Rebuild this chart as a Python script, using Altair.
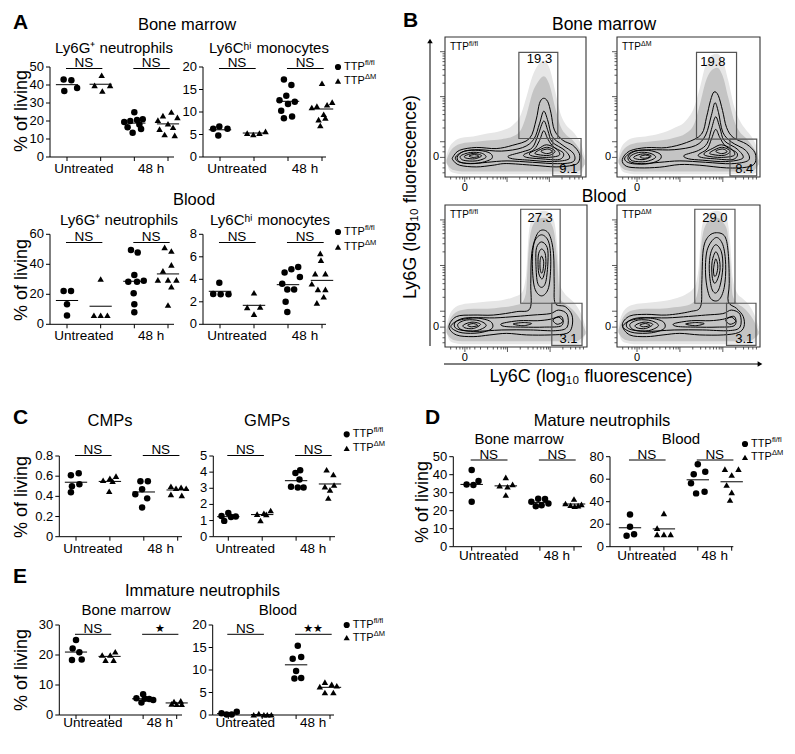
import altair as alt
import pandas as pd

FONT = "Liberation Sans"
MARGIN = 8
CW, CH = 779, 738
GROUP_LABELS = ["Untreated", "48 h"]
GENOS = ["fl", "dm", "fl", "dm"]
SHAPE_SCALE = alt.Scale(domain=["fl", "dm"], range=["circle", "triangle-up"])

# ---------------- strip-plot data (values, horizontal jitter) ----------------
A_BM_LY6G = [[43.1, 42.6, 36.7, 38.3], [45.4, 39.8, 39.8, 36.7],
             [24.9, 21.0, 20.5, 20.0, 19.5, 18.0, 16.5, 15.5, 13.5],
             [25.0, 23.0, 22.0, 20.5, 18.5, 16.5, 15.5, 12.5, 12.0]]
A_BM_LY6G_J = [[-0.10, 0.13, -0.08, 0.30], [0.03, -0.18, 0.28, 0.05],
               [0.00, 0.25, 0.08, -0.12, -0.30, 0.15, -0.20, 0.20, -0.05],
               [0.10, -0.15, 0.28, -0.30, 0.00, 0.15, -0.25, -0.10, 0.20]]
A_BM_LY6C = [[6.8, 6.3, 6.3, 4.8], [5.3, 5.0, 5.3, 5.7],
             [17.2, 16.0, 13.6, 12.6, 12.3, 11.8, 10.3, 9.0, 8.6],
             [16.4, 12.2, 11.6, 11.3, 11.0, 9.5, 8.7, 8.3, 7.0]]
A_BM_LY6C_J = [[-0.02, -0.20, 0.22, -0.05], [-0.20, -0.02, 0.16, 0.34],
               [-0.12, 0.10, -0.05, -0.25, 0.20, 0.00, -0.20, 0.12, -0.12],
               [0.00, 0.30, 0.15, -0.15, -0.30, 0.05, 0.10, -0.10, -0.05]]
A_BL_LY6G = [[22.2, 22.2, 13.3, 5.8], [30.2, 6.0, 6.0, 6.0],
             [49.6, 47.8, 32.9, 28.4, 28.4, 29.1, 20.7, 13.3, 8.0],
             [51.3, 48.9, 39.6, 35.6, 29.6, 29.6, 29.6, 25.1, 12.9]]
A_BL_LY6G_J = [[-0.10, 0.12, 0.00, 0.00], [0.00, -0.20, 0.00, 0.20],
               [-0.10, 0.10, 0.00, -0.18, 0.08, 0.28, -0.02, 0.00, 0.00],
               [-0.10, 0.10, 0.10, -0.15, -0.30, 0.00, 0.25, 0.10, 0.00]]
A_BL_LY6C = [[3.7, 2.7, 2.67, 2.67], [2.8, 1.5, 0.9, 1.55],
             [5.1, 4.9, 4.6, 4.2, 3.6, 3.1, 3.1, 2.0, 1.1],
             [6.3, 5.7, 4.5, 4.5, 3.6, 3.1, 3.1, 2.45, 1.9]]
A_BL_LY6C_J = [[-0.02, -0.20, 0.02, 0.25], [0.00, -0.20, 0.00, 0.18],
               [0.30, 0.10, -0.10, 0.35, -0.17, 0.18, -0.02, -0.07, -0.02],
               [-0.05, -0.03, -0.20, 0.10, -0.30, -0.12, 0.10, 0.05, -0.15]]
C_CMP = [[0.63, 0.61, 0.52, 0.50, 0.44], [0.60, 0.58, 0.56, 0.55, 0.45],
         [0.55, 0.55, 0.47, 0.42, 0.38, 0.29], [0.50, 0.49, 0.48, 0.48, 0.42, 0.41]]
C_CMP_J = [[0.08, -0.15, 0.10, -0.12, -0.15], [0.18, 0.00, -0.20, 0.08, -0.02],
           [-0.10, 0.12, -0.05, -0.25, 0.10, -0.05], [-0.20, 0.10, -0.05, 0.25, -0.20, 0.12]]
C_GMP = [[1.47, 1.28, 1.25, 1.22, 0.98], [1.62, 1.45, 1.40, 1.38, 1.00],
         [4.12, 3.95, 3.55, 3.10, 3.05, 3.05], [4.15, 3.85, 3.20, 3.10, 2.90, 2.40]]
C_GMP_J = [[0.00, -0.20, 0.22, 0.08, -0.12], [0.25, 0.05, -0.15, 0.12, -0.05],
           [0.12, -0.02, 0.10, -0.15, 0.05, 0.22], [-0.10, 0.10, 0.12, -0.15, 0.00, -0.05]]
D_BM = [[42.6, 36.5, 34.6, 34.3, 25.0], [38.5, 34.6, 33.9, 33.3, 28.7],
        [26.6, 26.5, 25.0, 24.0, 23.0, 22.5], [26.5, 24.0, 23.5, 23.0, 22.8, 22.5]]
D_BM_J = [[0.00, 0.20, -0.15, 0.05, 0.00], [0.00, 0.20, -0.18, 0.05, 0.00],
          [-0.05, 0.15, -0.25, 0.25, 0.05, -0.12], [0.00, -0.25, 0.22, -0.10, 0.12, 0.02]]
D_BL = [[28.7, 17.8, 11.0, 9.8], [29.6, 16.5, 11.0, 11.0, 11.0],
        [73.2, 66.7, 64.3, 56.3, 48.9, 47.4], [69.0, 69.0, 63.7, 54.8, 48.3, 41.5]]
D_BL_J = [[0.00, 0.00, 0.12, -0.10], [0.00, -0.20, -0.20, 0.00, 0.20],
          [0.00, 0.22, -0.12, -0.20, 0.20, -0.05], [-0.20, 0.20, 0.00, -0.15, 0.00, -0.05]]
E_BM = [[25.0, 22.2, 20.9, 18.3, 18.5], [21.1, 20.0, 20.0, 18.3, 18.3],
        [6.9, 5.6, 5.4, 5.3, 5.0, 4.2], [4.7, 4.5, 3.7, 3.6, 3.6]]
E_BM_J = [[0.00, -0.10, 0.10, -0.12, 0.17], [0.17, 0.02, -0.22, -0.12, 0.12],
          [0.00, -0.20, 0.05, 0.18, 0.30, -0.05], [0.12, -0.08, -0.15, 0.00, 0.15]]
E_BL = [[0.4, 0.1, 0.1, 0.7], [0.3, 0.05, 0.05, 0.05, 0.05],
        [15.4, 12.9, 12.5, 9.8, 8.1, 8.2], [7.3, 6.8, 6.5, 6.3, 5.0, 5.0]]
E_BL_J = [[-0.20, -0.05, 0.10, 0.25], [-0.10, -0.25, 0.05, 0.15, 0.27],
          [0.05, 0.15, -0.10, 0.00, -0.05, 0.15], [-0.15, 0.05, 0.20, -0.30, -0.15, 0.10]]

# ---------------- flow cytometry: gates, frequencies, contours ----------------
GATE_FREQ = {"bm_fl": ["19.3", "9.1"], "bm_dm": ["19.8", "8.4"],
             "bl_fl": ["27.3", "3.1"], "bl_dm": ["29.0", "3.1"]}
GATES = {  # x0, x1, y0, y1 (in % of axis)
    "bm_fl": [(52.4, 80.0, 27.5, 89.0), (76.4, 96.5, 0.8, 27.5)],
    "bm_dm": [(55.6, 83.6, 27.0, 89.0), (79.0, 97.7, 0.8, 27.0)],
    "bl_fl": [(53.3, 81.1, 30.8, 97.0), (75.2, 96.5, 1.2, 30.8)],
    "bl_dm": [(54.4, 82.5, 30.8, 97.0), (76.6, 97.2, 1.2, 30.8)],
}
GATE_LABEL_POS = {"bm_fl": [(67, 84), (87.5, 5.5)], "bm_dm": [(67, 82.5), (89, 5.5)],
                  "bl_fl": [(67, 90.5), (87, 5.5)], "bl_dm": [(68.5, 90.5), (89, 5.5)]}

CLOUD_X_BM = [1, 3, 6, 12, 20, 30, 40, 48, 54, 58, 62, 66, 70, 74, 78, 82, 86, 90, 94, 97, 99]
CLOUD_LO_BM = [10, 7, 5, 4, 4, 4, 4, 4, 4, 4, 4, 4, 4, 4, 4, 4, 4, 4, 4, 6, 9]
CLOUD_HI_BM_FL = [12, 17, 21, 24, 25, 26, 27, 29, 34, 45, 60, 68, 72, 66, 50, 36, 30, 27, 22, 17, 12]
CLOUD_HI_BM_DM = [12, 17, 21, 24, 25, 26, 28, 31, 38, 52, 68, 76, 78, 72, 56, 40, 32, 28, 23, 18, 12]
HALO_LO_BM = [12, 5, 3, 2, 2, 2, 2, 2, 2, 2, 2, 2, 2, 2, 2, 2, 2, 2, 2, 3, 10]
HALO_HI_BM_FL = [15, 21, 25, 28, 29, 31, 33, 37, 45, 58, 72, 80, 83, 78, 62, 45, 37, 33, 28, 22, 15]
HALO_HI_BM_DM = [15, 21, 25, 28, 29, 31, 35, 40, 50, 64, 80, 87, 88, 83, 68, 50, 40, 34, 29, 23, 15]
CLOUD_X_BL = [1, 3, 6, 12, 20, 30, 40, 48, 54, 57, 59, 62, 66, 70, 74, 77, 79, 81, 84, 88, 92, 96, 99]
CLOUD_LO_BL = [10, 7, 5, 4, 4, 4, 4, 4, 4, 4, 4, 4, 4, 4, 4, 4, 4, 4, 4, 4, 4, 6, 9]
CLOUD_HI_BL_FL = [12, 18, 23, 26, 27, 27, 28, 29, 31, 38, 70, 86, 90, 91, 88, 80, 60, 34, 31, 28, 24, 18, 11]
CLOUD_HI_BL_DM = [12, 18, 23, 26, 27, 27, 28, 29, 32, 42, 72, 86, 90, 91, 88, 82, 62, 36, 31, 28, 24, 18, 11]
HALO_LO_BL = [12, 5, 3, 2, 2, 2, 2, 2, 2, 2, 2, 2, 2, 2, 2, 2, 2, 2, 2, 2, 2, 3, 10]
HALO_HI_BL_FL = [15, 22, 27, 30, 31, 32, 33, 35, 38, 50, 80, 92, 95, 96, 94, 88, 72, 44, 38, 34, 30, 23, 14]
HALO_HI_BL_DM = [15, 22, 27, 30, 31, 32, 34, 37, 42, 55, 82, 92, 95, 96, 94, 90, 75, 48, 38, 34, 30, 23, 14]

LEFT_BLOB_BM_FL = {
    "l1": [(8, 15), (14, 18.5), (24, 19), (32, 17), (33, 13), (24, 10), (13, 10), (8, 12)],
    "l2": [(11, 15), (18, 17.5), (26, 17), (29, 14), (22, 11.5), (13, 12)],
    "l3": [(14, 15), (20, 16.8), (26, 15.2), (21, 13), (15, 13.5)],
    "l4": [(17, 15), (21, 16), (24, 14.8), (20, 14)],
}
LEFT_BLOB_BM_DM = {
    "l1": [(6, 14.5), (12, 18.5), (22, 19), (30, 16.5), (30, 12.5), (22, 9.5), (11, 9.5), (6, 11.5)],
    "l2": [(9, 14.5), (15, 17.5), (23, 17), (27, 14), (20, 11), (11, 11.5)],
    "l3": [(12, 14.5), (18, 16.5), (24, 15), (19, 12.5), (13, 13)],
    "l4": [(16, 14.5), (20, 15.7), (23, 14.4), (19, 13.4)],
}
LEFT_BLOB_BL = {
    "l1": [(5, 16), (12, 20), (22, 20.5), (32, 18), (33, 13), (24, 10), (12, 10), (5, 13)],
    "l2": [(9, 16), (15, 19), (24, 18.5), (29, 15), (22, 11.5), (12, 12)],
    "l3": [(13, 15.5), (19, 17.5), (25, 16), (20, 13), (14, 13.5)],
    "l4": [(16, 15.5), (20, 16.5), (23, 15.2), (18.5, 14.2)],
}
BAND_BL = {
    "b2": [(8, 18), (20, 20.5), (35, 20.5), (50, 21.5), (62, 22.5), (74, 23.5), (80, 26), (86, 23),
           (86, 14), (78, 11.5), (60, 12), (40, 12), (20, 11), (8, 13)],
    "b3": [(40, 16.5), (52, 18.5), (65, 18.5), (74, 19.5), (82, 21.5), (82, 15), (70, 14), (55, 14), (42, 14.5)],
    "b4": [(48, 16.2), (55, 17.2), (61, 16.5), (55, 15)],
    "b5": [(76, 19), (80, 21), (83, 18), (79, 16)],
}
CONTOURS = {
    "bm_fl": dict(LEFT_BLOB_BM_FL, **{
        "c1": [(5.7, 14.4), (10.4, 19.1), (22.2, 21.1), (36.3, 20.3), (48.1, 22.7), (59.9, 27.5), (64.6, 40.7),
               (67.0, 52.6), (69.8, 56.2), (72.9, 53.8), (75.2, 45.5), (77.6, 33.5), (83.5, 26.3), (90.6, 22.7),
               (95.3, 16.7), (94.8, 10.8), (90.6, 8.4), (78.8, 7.2), (62.3, 8.4), (43.4, 9.6), (34.0, 8.4),
               (22.2, 7.2), (10.4, 8.4), (5.7, 12.0)],
        "c2": [(9, 15), (14, 18.5), (24, 19.5), (40, 18.5), (55, 21), (63, 27), (67, 38), (70, 47), (73, 40),
               (76, 29), (83, 23), (91, 17), (91, 11), (80, 9.5), (62, 10.5), (44, 11.5), (30, 10.5), (18, 9.5), (10, 11)],
        "c3": [(45, 15), (55, 18), (62, 21), (66, 30), (70, 40), (73, 33), (76, 25), (85, 19), (88, 13),
               (76, 11), (60, 12), (48, 13)],
        "c4": [(56, 16), (63, 19.5), (67, 26), (70, 33), (73, 27), (77, 21.5), (84, 17), (81, 12.5), (68, 13), (58, 14)],
        "c5": [(60, 17), (66, 20), (72, 23), (79, 20), (81, 15.5), (72, 14), (62, 15)],
        "c6": [(64, 17.5), (72, 21.2), (78, 18.5), (74, 15.5), (66, 16)],
        "c7": [(68, 18.5), (73, 20), (76, 18), (72, 16.7)],
    }),
    "bm_dm": dict(LEFT_BLOB_BM_DM, **{
        "c1": [(3.7, 12.5), (8.9, 18.6), (20.6, 21.0), (34.6, 21.0), (48.6, 24.6), (59.1, 30.6), (62.6, 42.7),
               (65.4, 54.7), (67.8, 60.7), (70.8, 58.3), (73.8, 47.5), (76.6, 35.4), (81.3, 28.2), (90.7, 23.4),
               (96.5, 17.3), (96.5, 10.1), (90.7, 7.0), (76.6, 6.5), (57.9, 8.4), (43.9, 8.9), (29.9, 7.0),
               (15.9, 6.5), (6.5, 7.7)],
        "c2": [(8, 15), (13, 18.5), (24, 19.5), (40, 19.5), (55, 22.5), (62, 30), (66, 44), (68.5, 53), (71, 46),
               (74, 32), (80, 25), (90, 19), (92, 12), (80, 9.5), (62, 10.5), (44, 11.5), (30, 10.5), (17, 9.5), (9, 11)],
        "c3": [(47, 15.5), (57, 19), (63, 24), (66, 34), (69, 43), (72, 35), (75, 26), (84, 20), (88, 13.5),
               (76, 11), (60, 12), (50, 13)],
        "c4": [(57, 16), (63, 20), (66, 27), (69, 34), (72, 28), (76, 22), (84, 17), (81, 12.5), (68, 13), (59, 14)],
        "c5": [(61, 17), (67, 20.5), (73, 23), (80, 20), (82, 15.5), (73, 14), (63, 15)],
        "c6": [(65, 17.5), (73, 21.2), (79, 18.5), (75, 15.5), (67, 16)],
        "c7": [(69, 18.5), (74, 20), (77, 18), (73, 16.7)],
    }),
    "bl_fl": dict(LEFT_BLOB_BL, **BAND_BL, **{
        "c1": [(2.8, 14.3), (8.0, 21.4), (19.8, 22.5), (34.0, 22.5), (50.5, 24.9), (59.9, 27.2), (60.4, 44.8),
               (61.1, 66.0), (64.6, 78.9), (68.9, 82.4), (73.6, 78.9), (76.4, 66.0), (76.9, 44.8), (77.6, 30.8),
               (84.7, 28.4), (89.4, 22.5), (89.4, 14.3), (85.8, 9.6), (74.1, 8.5), (57.5, 8.5), (43.4, 9.6),
               (31.6, 8.5), (19.8, 7.3), (8.0, 8.5)],
        "o2": [(68, 79), (73, 74), (74.5, 60), (73, 42), (68, 36), (63, 42), (61.5, 60), (63, 74)],
        "o3": [(68, 74), (72, 70), (72.5, 60), (71, 46), (68, 42), (65, 46), (64, 60), (64.5, 70)],
        "o4": [(68, 69), (70.5, 66), (71, 58), (69.5, 50), (68, 48), (66, 52), (65.5, 60), (66, 66)],
        "o5": [(68, 64), (69.5, 60), (69, 54), (68, 52), (67, 55), (67, 61)],
    }),
    "bl_dm": dict(LEFT_BLOB_BL, **BAND_BL, **{
        "c1": [(3.7, 15.5), (8.9, 21.8), (20.6, 23.0), (34.6, 22.5), (50.9, 24.9), (58.4, 28.4), (59.3, 44.8),
               (60.3, 68.3), (63.8, 77.7), (69.6, 80.5), (75.5, 77.7), (77.8, 66.0), (78.5, 44.8), (77.8, 31.9),
               (83.6, 27.2), (88.3, 21.4), (88.8, 14.3), (84.8, 10.1), (74.3, 8.5), (57.9, 8.5), (43.9, 9.6),
               (32.2, 8.5), (20.6, 7.3), (8.9, 8.5)],
        "o2": [(69, 77), (74, 72), (76, 58), (75, 42), (71, 33), (65, 35), (62, 50), (63, 68)],
        "o3": [(69, 72), (73, 67), (74, 56), (72, 43), (69, 38), (66, 42), (64.5, 55), (65.5, 66)],
        "o4": [(69, 67), (71.5, 62), (72, 54), (70, 47), (68, 45), (66.5, 50), (66.5, 60)],
        "o5": [(69, 62), (70.5, 57), (69.5, 51), (68, 50), (67.5, 55)],
    }),
}
FLOW_Y_MAJOR = [14, 25.2, 57.4, 89.5]
FLOW_Y_MINOR = [3, 6.5, 10, 18, 21.5, 35, 40.6, 44.6, 47.7, 50.3, 52.4, 54.3, 55.9,
                67, 72.7, 76.7, 79.8, 82.4, 84.5, 86.4, 88]
FLOW_X_MAJOR = [14, 44, 74]
FLOW_X_MINOR = [4, 8, 10.5, 12.5, 15.5, 17.5, 21, 25, 30, 34, 37, 39.5, 41.3, 42.8,
                53, 58.5, 62, 65, 67.5, 69.5, 71.5, 72.8, 83, 88.5, 92, 95, 97.5]
FLOW_ZERO = 14


def px(v):
    return v - MARGIN


def texts(items, size, weight="normal", angle=0, align="center", baseline="middle"):
    df = pd.DataFrame([{"t": t, "x": px(x), "y": px(y)} for t, x, y in items])
    return alt.Chart(df).mark_text(font=FONT, fontSize=size, fontWeight=weight, angle=angle,
                                   align=align, baseline=baseline, color="black").encode(
        x=alt.X("x:Q", scale=None, axis=None), y=alt.Y("y:Q", scale=None, axis=None), text="t:N")


def strip(values, jitter, ymax, yticks, frame, sig_y, xlab_y, sig=("NS", "NS")):
    x_left, x_right, t1, t4, y0, ytop = frame
    rows = []
    for g, (vals, jits) in enumerate(zip(values, jitter)):
        for v, j in zip(vals, jits):
            rows.append({"g": g + 1, "x": g + 1 + j, "v": v, "geno": GENOS[g]})
    df = pd.DataFrame(rows)
    unit = (t4 - t1) / 3
    xs = alt.Scale(domain=[1 + (x_left - t1) / unit, 4 + (x_right - t4) / unit],
                   range=[px(x_left), px(x_right)], nice=False, zero=False)
    ys = alt.Scale(domain=[0, ymax], range=[px(y0), px(ytop)], nice=False, zero=False)
    pts = alt.Chart(df).mark_point(filled=True, size=42, color="black", opacity=1).encode(
        x=alt.X("x:Q", scale=xs, axis=None),
        y=alt.Y("v:Q", scale=ys, axis=None),
        shape=alt.Shape("geno:N", scale=SHAPE_SCALE, legend=None))
    means = alt.Chart(df).transform_aggregate(m="mean(v)", groupby=["g"]).transform_calculate(
        a="datum.g - 0.33", b="datum.g + 0.33").mark_rule(color="black", strokeWidth=1).encode(
        x=alt.X("a:Q", scale=xs, axis=None), x2="b:Q", y=alt.Y("m:Q", scale=ys, axis=None))
    # y axis (domain, ticks, labels) drawn through the y scale
    ydom = alt.Chart(pd.DataFrame({"lo": [0], "hi": [ymax]})).mark_rule(color="black", strokeWidth=1).encode(
        x=alt.value(px(x_left)), y=alt.Y("lo:Q", scale=ys, axis=None), y2="hi:Q")
    tdf = pd.DataFrame({"v": yticks})
    ytk = alt.Chart(tdf).mark_rule(color="black", strokeWidth=1).encode(
        x=alt.value(px(x_left) - 4), x2=alt.value(px(x_left)), y=alt.Y("v:Q", scale=ys, axis=None))
    ylab = alt.Chart(tdf).mark_text(font=FONT, fontSize=13, align="right", baseline="middle", color="black").encode(
        x=alt.value(px(x_left) - 6), y=alt.Y("v:Q", scale=ys, axis=None), text=alt.Text("v:Q", format="~g"))
    # x axis
    xdom = alt.Chart(pd.DataFrame({"k": [0]})).mark_rule(color="black", strokeWidth=1).encode(
        x=alt.value(px(x_left)), x2=alt.value(px(x_right)), y=alt.value(px(y0)))
    xtk = alt.Chart(pd.DataFrame({"g": [1, 2, 3, 4]})).mark_rule(color="black", strokeWidth=1).encode(
        x=alt.X("g:Q", scale=xs, axis=None), y=alt.value(px(y0)), y2=alt.value(px(y0) + 4))
    sdf = pd.DataFrame({"a": [0.97, 2.97], "b": [2.05, 4.05], "c": [1.5, 3.5], "t": list(sig)})
    lines = alt.Chart(sdf).mark_rule(color="black", strokeWidth=1).encode(
        x=alt.X("a:Q", scale=xs, axis=None), x2="b:Q", y=alt.value(px(sig_y)))
    ns = alt.Chart(sdf).transform_filter("datum.t == 'NS'").mark_text(
        font=FONT, fontSize=13.5, baseline="alphabetic", color="black").encode(
        x=alt.X("c:Q", scale=xs, axis=None), y=alt.value(px(sig_y) - 1.5), text="t:N")
    stars = alt.Chart(sdf).transform_filter("datum.t != 'NS'").mark_text(
        font="DejaVu Sans", fontSize=11, baseline="middle", color="black").encode(
        x=alt.X("c:Q", scale=xs, axis=None), y=alt.value(px(sig_y) - 5), text="t:N")
    xl = alt.Chart(pd.DataFrame({"c": [1.5, 3.5], "t": GROUP_LABELS})).mark_text(
        font=FONT, fontSize=13.5, baseline="middle", color="black").encode(
        x=alt.X("c:Q", scale=xs, axis=None), y=alt.value(px(xlab_y)), text="t:N")
    return alt.layer(pts, means, ydom, ytk, ylab, xdom, xtk, lines, ns, stars, xl)


def legend(cx, cy1, cy2):
    sym = pd.DataFrame({"x": [px(cx), px(cx)], "y": [px(cy1), px(cy2)], "geno": ["fl", "dm"]})
    s = alt.Chart(sym).mark_point(filled=True, size=38, color="black", opacity=1).encode(
        x=alt.X("x:Q", scale=None, axis=None), y=alt.Y("y:Q", scale=None, axis=None),
        shape=alt.Shape("geno:N", scale=SHAPE_SCALE, legend=None))
    main = texts([("TTP", cx + 6, cy1), ("TTP", cx + 6, cy2)], 11, align="left")
    sup = texts([("fl/fl", cx + 27, cy1 - 4), ("ΔM", cx + 27, cy2 - 4)], 7.5, align="left")
    return alt.layer(s, main, sup)


def flow(key, box, cloud_x, halo_lo, halo_hi, cloud_lo, cloud_hi, tag_sup):
    x0, x1, ytop, ybot = box
    xs = alt.Scale(domain=[0, 100], range=[px(x0), px(x1)], nice=False, zero=False)
    ys = alt.Scale(domain=[0, 100], range=[px(ybot), px(ytop)], nice=False, zero=False)
    hdf = pd.DataFrame({"x": cloud_x, "lo": halo_lo, "hi": halo_hi})
    halo = alt.Chart(hdf).mark_area(color="#e6e6e6", interpolate="monotone", opacity=1).encode(
        x=alt.X("x:Q", scale=xs, axis=None), y=alt.Y("lo:Q", scale=ys, axis=None), y2="hi:Q")
    cdf = pd.DataFrame({"x": cloud_x, "lo": cloud_lo, "hi": cloud_hi})
    cloud = alt.Chart(cdf).mark_area(color="#c4c4c4", interpolate="monotone", opacity=1).encode(
        x=alt.X("x:Q", scale=xs, axis=None), y=alt.Y("lo:Q", scale=ys, axis=None), y2="hi:Q")
    rows = []
    for cid, pts in CONTOURS[key].items():
        for i, (x, y) in enumerate(pts):
            rows.append({"cid": cid, "i": i, "x": x, "y": y})
    cont = alt.Chart(pd.DataFrame(rows)).mark_line(
        color="black", strokeWidth=1, interpolate="cardinal-closed").encode(
        x=alt.X("x:Q", scale=xs, axis=None), y=alt.Y("y:Q", scale=ys, axis=None),
        detail="cid:N", order="i:Q")
    gdf = pd.DataFrame([{"a": a, "b": b, "c": c, "d": d} for a, b, c, d in GATES[key]])
    gates = alt.Chart(gdf).mark_rect(filled=False, color="#555555", strokeWidth=1.2).encode(
        x=alt.X("a:Q", scale=xs, axis=None), x2="b:Q", y=alt.Y("c:Q", scale=ys, axis=None), y2="d:Q")
    ldf = pd.DataFrame([{"x": p[0], "y": p[1], "t": t} for p, t in zip(GATE_LABEL_POS[key], GATE_FREQ[key])])
    glab = alt.Chart(ldf).mark_text(font=FONT, fontSize=13, color="black", baseline="middle").encode(
        x=alt.X("x:Q", scale=xs, axis=None), y=alt.Y("y:Q", scale=ys, axis=None), text="t:N")
    frame = alt.Chart(pd.DataFrame({"a": [0], "b": [100], "c": [0], "d": [100]})).mark_rect(
        filled=False, color="#333333", strokeWidth=1.1).encode(
        x=alt.X("a:Q", scale=xs, axis=None), x2="b:Q", y=alt.Y("c:Q", scale=ys, axis=None), y2="d:Q")
    # log-style ticks on the left and bottom edges
    ticks = []
    for vals, size in ((FLOW_Y_MAJOR, 5), (FLOW_Y_MINOR, 2.5)):
        ticks.append(alt.Chart(pd.DataFrame({"v": vals})).mark_rule(color="#333333", strokeWidth=0.8).encode(
            x=alt.value(px(x0) - size), x2=alt.value(px(x0)), y=alt.Y("v:Q", scale=ys, axis=None)))
    for vals, size in ((FLOW_X_MAJOR, 5), (FLOW_X_MINOR, 2.5)):
        ticks.append(alt.Chart(pd.DataFrame({"v": vals})).mark_rule(color="#333333", strokeWidth=0.8).encode(
            y=alt.value(px(ybot)), y2=alt.value(px(ybot) + size), x=alt.X("v:Q", scale=xs, axis=None)))
    zdf = pd.DataFrame({"v": [FLOW_ZERO], "t": ["0"]})
    zy = alt.Chart(zdf).mark_text(font=FONT, fontSize=11, align="right", baseline="middle", color="black").encode(
        x=alt.value(px(x0) - 6), y=alt.Y("v:Q", scale=ys, axis=None), text="t:N")
    zx = alt.Chart(zdf).mark_text(font=FONT, fontSize=11, align="center", baseline="top", color="black").encode(
        y=alt.value(px(ybot) + 5), x=alt.X("v:Q", scale=xs, axis=None), text="t:N")
    tag = texts([("TTP", x0 + 5, ytop + 10)], 10, align="left")
    tsup = texts([(tag_sup, x0 + 24, ytop + 7)], 7, align="left")
    return alt.layer(halo, cloud, cont, gates, glab, frame, *ticks, zy, zx, tag, tsup)


layers = []
# Panel A
layers.append(strip(A_BM_LY6G, A_BM_LY6G_J, 50, [0, 10, 20, 30, 40, 50],
                    (50, 174, 67, 168, 157, 67), 68.5, 169))
layers.append(strip(A_BM_LY6C, A_BM_LY6C_J, 20, [0, 5, 10, 15, 20],
                    (203, 326, 220, 322, 157, 67), 68.5, 169))
layers.append(strip(A_BL_LY6G, A_BL_LY6G_J, 60, [0, 20, 40, 60],
                    (50, 174, 67, 168, 324.3, 234.3), 242.5, 336))
layers.append(strip(A_BL_LY6C, A_BL_LY6C_J, 8, [0, 2, 4, 6, 8],
                    (203, 326, 220, 322, 324.3, 234.3), 242.5, 336))
# Panel C
layers.append(strip(C_CMP, C_CMP_J, 0.8, [0, 0.2, 0.4, 0.6, 0.8],
                    (59.3, 182, 76, 177.7, 536.7, 456), 455.5, 549))
layers.append(strip(C_GMP, C_GMP_J, 5, [0, 1, 2, 3, 4, 5],
                    (213.3, 335, 228.3, 330, 536.7, 456), 455.5, 549))
# Panel D
layers.append(strip(D_BM, D_BM_J, 50, [0, 10, 20, 30, 40, 50],
                    (453.3, 582, 471.7, 574, 546.7, 456.7), 460, 556))
layers.append(strip(D_BL, D_BL_J, 80, [0, 20, 40, 60, 80],
                    (610, 733.3, 630, 731.7, 546.7, 456.7), 460, 556))
# Panel E
layers.append(strip(E_BM, E_BM_J, 30, [0, 10, 20, 30],
                    (59.3, 182, 76, 176.7, 715, 625), 634.3, 723, sig=("NS", "★")))
layers.append(strip(E_BL, E_BL_J, 20, [0, 5, 10, 15, 20],
                    (212.7, 334, 228.3, 330, 715, 625), 634.3, 723, sig=("NS", "★★")))

# Panel B (flow cytometry)
layers.append(flow("bm_fl", (445, 586, 37, 177), CLOUD_X_BM, HALO_LO_BM, HALO_HI_BM_FL,
                   CLOUD_LO_BM, CLOUD_HI_BM_FL, "fl/fl"))
layers.append(flow("bm_dm", (617, 760, 37, 177), CLOUD_X_BM, HALO_LO_BM, HALO_HI_BM_DM,
                   CLOUD_LO_BM, CLOUD_HI_BM_DM, "ΔM"))
layers.append(flow("bl_fl", (445, 587, 205, 347), CLOUD_X_BL, HALO_LO_BL, HALO_HI_BL_FL,
                   CLOUD_LO_BL, CLOUD_HI_BL_FL, "fl/fl"))
layers.append(flow("bl_dm", (617, 760, 205, 347), CLOUD_X_BL, HALO_LO_BL, HALO_HI_BL_DM,
                   CLOUD_LO_BL, CLOUD_HI_BL_DM, "ΔM"))

# legends
layers.append(legend(338, 67, 81))
layers.append(legend(338, 232, 247))
layers.append(legend(346.7, 434.3, 448.3))
layers.append(legend(745, 444, 457.3))
layers.append(legend(346.7, 625, 637.7))

# arrows for flow axes
one = pd.DataFrame({"k": [0]})
layers.append(alt.Chart(one).mark_rule(color="black", strokeWidth=1).encode(
    x=alt.value(px(430)), y=alt.value(px(42)), y2=alt.value(px(346))))
layers.append(alt.Chart(one).mark_rule(color="black", strokeWidth=1).encode(
    x=alt.value(px(444)), x2=alt.value(px(759)), y=alt.value(px(364))))
layers.append(alt.Chart(one).mark_point(shape="triangle-up", filled=True, size=30, color="black", opacity=1).encode(
    x=alt.value(px(430)), y=alt.value(px(41))))
layers.append(alt.Chart(one).mark_point(shape="triangle-right", filled=True, size=30, color="black", opacity=1).encode(
    x=alt.value(px(760)), y=alt.value(px(364))))

# text
layers.append(texts([("A", 20.5, 22.5), ("B", 410.5, 20.5), ("C", 20.5, 417.5),
                     ("D", 432.5, 417.5), ("E", 20, 576.5)], 21, weight="bold"))
layers.append(texts([("Bone marrow", 187, 25), ("Blood", 194, 200), ("CMPs", 110, 421), ("GMPs", 267, 421),
                     ("Mature neutrophils", 602, 421), ("Immature neutrophils", 202.5, 591)], 16.5))
layers.append(texts([("Bone marrow", 604, 25), ("Blood", 604, 197)], 17.5))
layers.append(texts([("Ly6G⁺ neutrophils", 114, 47.5), ("Ly6Cʰⁱ monocytes", 269, 47.5),
                     ("Ly6G⁺ neutrophils", 119, 220), ("Ly6Cʰⁱ monocytes", 270, 220),
                     ("Bone marrow", 519, 439), ("Blood", 681, 439),
                     ("Bone marrow", 126, 610), ("Blood", 278, 610)], 15))
layers.append(texts([("% of living", 22, 111), ("% of living", 22, 280), ("% of living", 22, 497),
                     ("% of living", 423, 502), ("% of living", 22, 670)], 18, angle=270))
layers.append(texts([("Ly6G (log₁₀ fluorescence)", 411, 197)], 18, angle=270))
layers.append(texts([("Ly6C (log₁₀ fluorescence)", 591, 377)], 18))

chart = alt.layer(*layers).resolve_scale(x="independent", y="independent").properties(
    width=CW, height=CH, padding=0, autosize=alt.AutoSizeParams(type="none")
).configure_view(stroke=None)

chart.save("out.html", embed_options={"renderer": "svg", "actions": False})
